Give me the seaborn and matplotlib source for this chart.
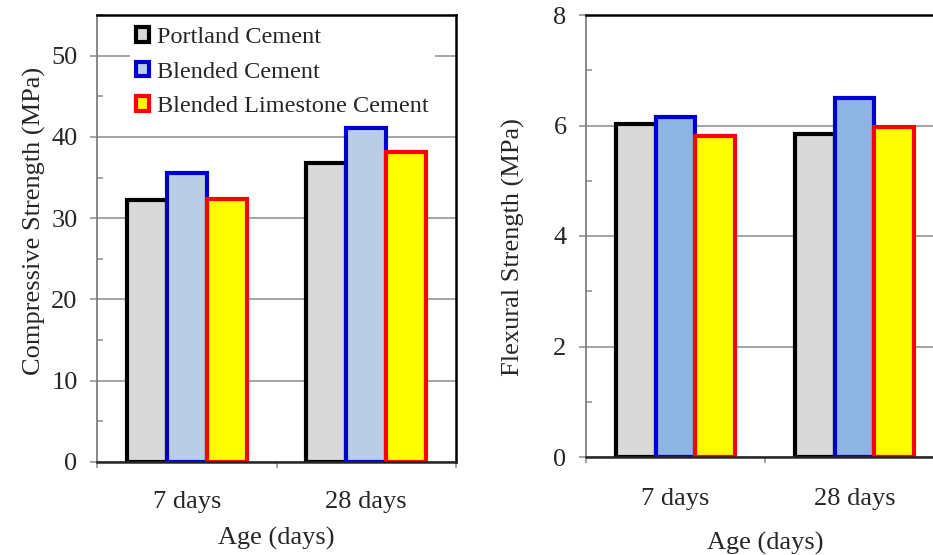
import matplotlib
matplotlib.use("Agg")
import matplotlib.pyplot as plt
import seaborn as sns
import pandas as pd
from matplotlib.patches import Patch
from matplotlib.ticker import MultipleLocator

# ---- data ----
ages = ["7 days", "28 days"]
cements = ["Portland Cement", "Blended Cement", "Blended Limestone Cement"]
compressive_portland = [32.2, 36.8]
compressive_blended = [35.5, 41.1]
compressive_limestone = [32.4, 38.1]
flexural_portland = [6.03, 5.85]
flexural_blended = [6.16, 6.49]
flexural_limestone = [5.81, 5.98]

comp_df = pd.DataFrame({
    "Age": ages * 3,
    "Cement": [c for c in cements for _ in ages],
    "Value": compressive_portland + compressive_blended + compressive_limestone,
})
flex_df = pd.DataFrame({
    "Age": ages * 3,
    "Cement": [c for c in cements for _ in ages],
    "Value": flexural_portland + flexural_blended + flexural_limestone,
})

edge_colors = ["#000000", "#0000cc", "#ff0000"]
fill_left = ["#d9d9d9", "#b9cde5", "#ffff00"]
fill_right = ["#d9d9d9", "#8eb4e3", "#ffff00"]

sns.set_theme(style="white")
plt.rcParams["font.family"] = ["Liberation Serif", "DejaVu Serif"]
plt.rcParams["font.size"] = 19

FS = 19
fig = plt.figure(figsize=(9.33, 5.55), dpi=100)
W, H = 933, 555
ax1 = fig.add_axes([97 / W, 1 - 462 / H, (456 - 97) / W, (462 - 15) / H])
ax2 = fig.add_axes([586 / W, 1 - 457 / H, 358 / W, (457 - 15) / H])

GRID = "#8c8c8c"


def draw(ax, df, fills, ylim, major, minor, ylabel, xpad, xlabpad, ylab_xy):
    sns.barplot(data=df, x="Age", y="Value", hue="Cement", order=ages,
                hue_order=cements, palette=fills, width=0.67, ax=ax,
                legend=False, saturation=1, zorder=3)
    for cont, ec in zip(ax.containers, edge_colors):
        for p in cont.patches:
            p.set_edgecolor(ec)
            p.set_linewidth(3.0)
            p.set_zorder(3)
    ax.set_xlim(-0.5, 1.5)
    ax.set_ylim(*ylim)
    ax.yaxis.set_major_locator(MultipleLocator(major))
    ax.yaxis.set_minor_locator(MultipleLocator(minor))
    ax.grid(axis="y", which="major", color=GRID, linewidth=1.1, zorder=0)
    ax.set_axisbelow(True)
    ax.tick_params(axis="y", which="major", direction="out", length=5,
                   width=1.1, color=GRID, pad=9, labelsize=FS, left=True)
    ax.tick_params(axis="y", which="minor", direction="in", length=4,
                   width=1.1, color=GRID, left=True)
    ax.set_xticks([0, 1])
    ax.set_xticklabels(ages)
    ax.set_xticks([-0.5, 0.5, 1.5], minor=True)
    ax.tick_params(axis="x", which="major", length=0, pad=xpad, labelsize=FS)
    ax.tick_params(axis="x", which="minor", direction="out", length=4,
                   width=1.1, color=GRID, bottom=True)
    ax.set_xlabel("Age (days)", fontsize=FS, labelpad=xlabpad)
    ax.set_ylabel(ylabel, fontsize=FS)
    ax.yaxis.set_label_coords(*ylab_xy)
    for s in ["top", "right"]:
        ax.spines[s].set_color("black")
        ax.spines[s].set_linewidth(1.8)
        ax.spines[s].set_visible(True)
    ax.spines["left"].set_color("#7f7f7f")
    ax.spines["left"].set_linewidth(1.3)
    ax.spines["bottom"].set_color("#262626")
    ax.spines["bottom"].set_linewidth(1.8)
    ax.spines["bottom"].set_zorder(4)


draw(ax1, comp_df, fill_left, (0, 55), 10, 5, "Compressive Strength (MPa)",
     21, 10, (-0.142, 0.54))
draw(ax2, flex_df, fill_right, (0, 8), 2, 1, "Flexural Strength (MPa)",
     22, 16, (-0.17, 0.475))

handles = [Patch(facecolor=f, edgecolor=e, linewidth=3.0)
           for f, e in zip(fill_left, edge_colors)]
leg = ax1.legend(handles, cements, loc="upper left",
                 bbox_to_anchor=(0.075, 1.0), frameon=True, fontsize=17.5,
                 handlelength=0.55, handleheight=0.55, handletextpad=0.3,
                 labelspacing=0.55, borderaxespad=0.25, borderpad=0.25)
leg.get_frame().set_edgecolor("none")
leg.get_frame().set_facecolor("white")
leg.get_frame().set_alpha(1)
leg.set_zorder(5)

fig.savefig("out.png", dpi=100)
